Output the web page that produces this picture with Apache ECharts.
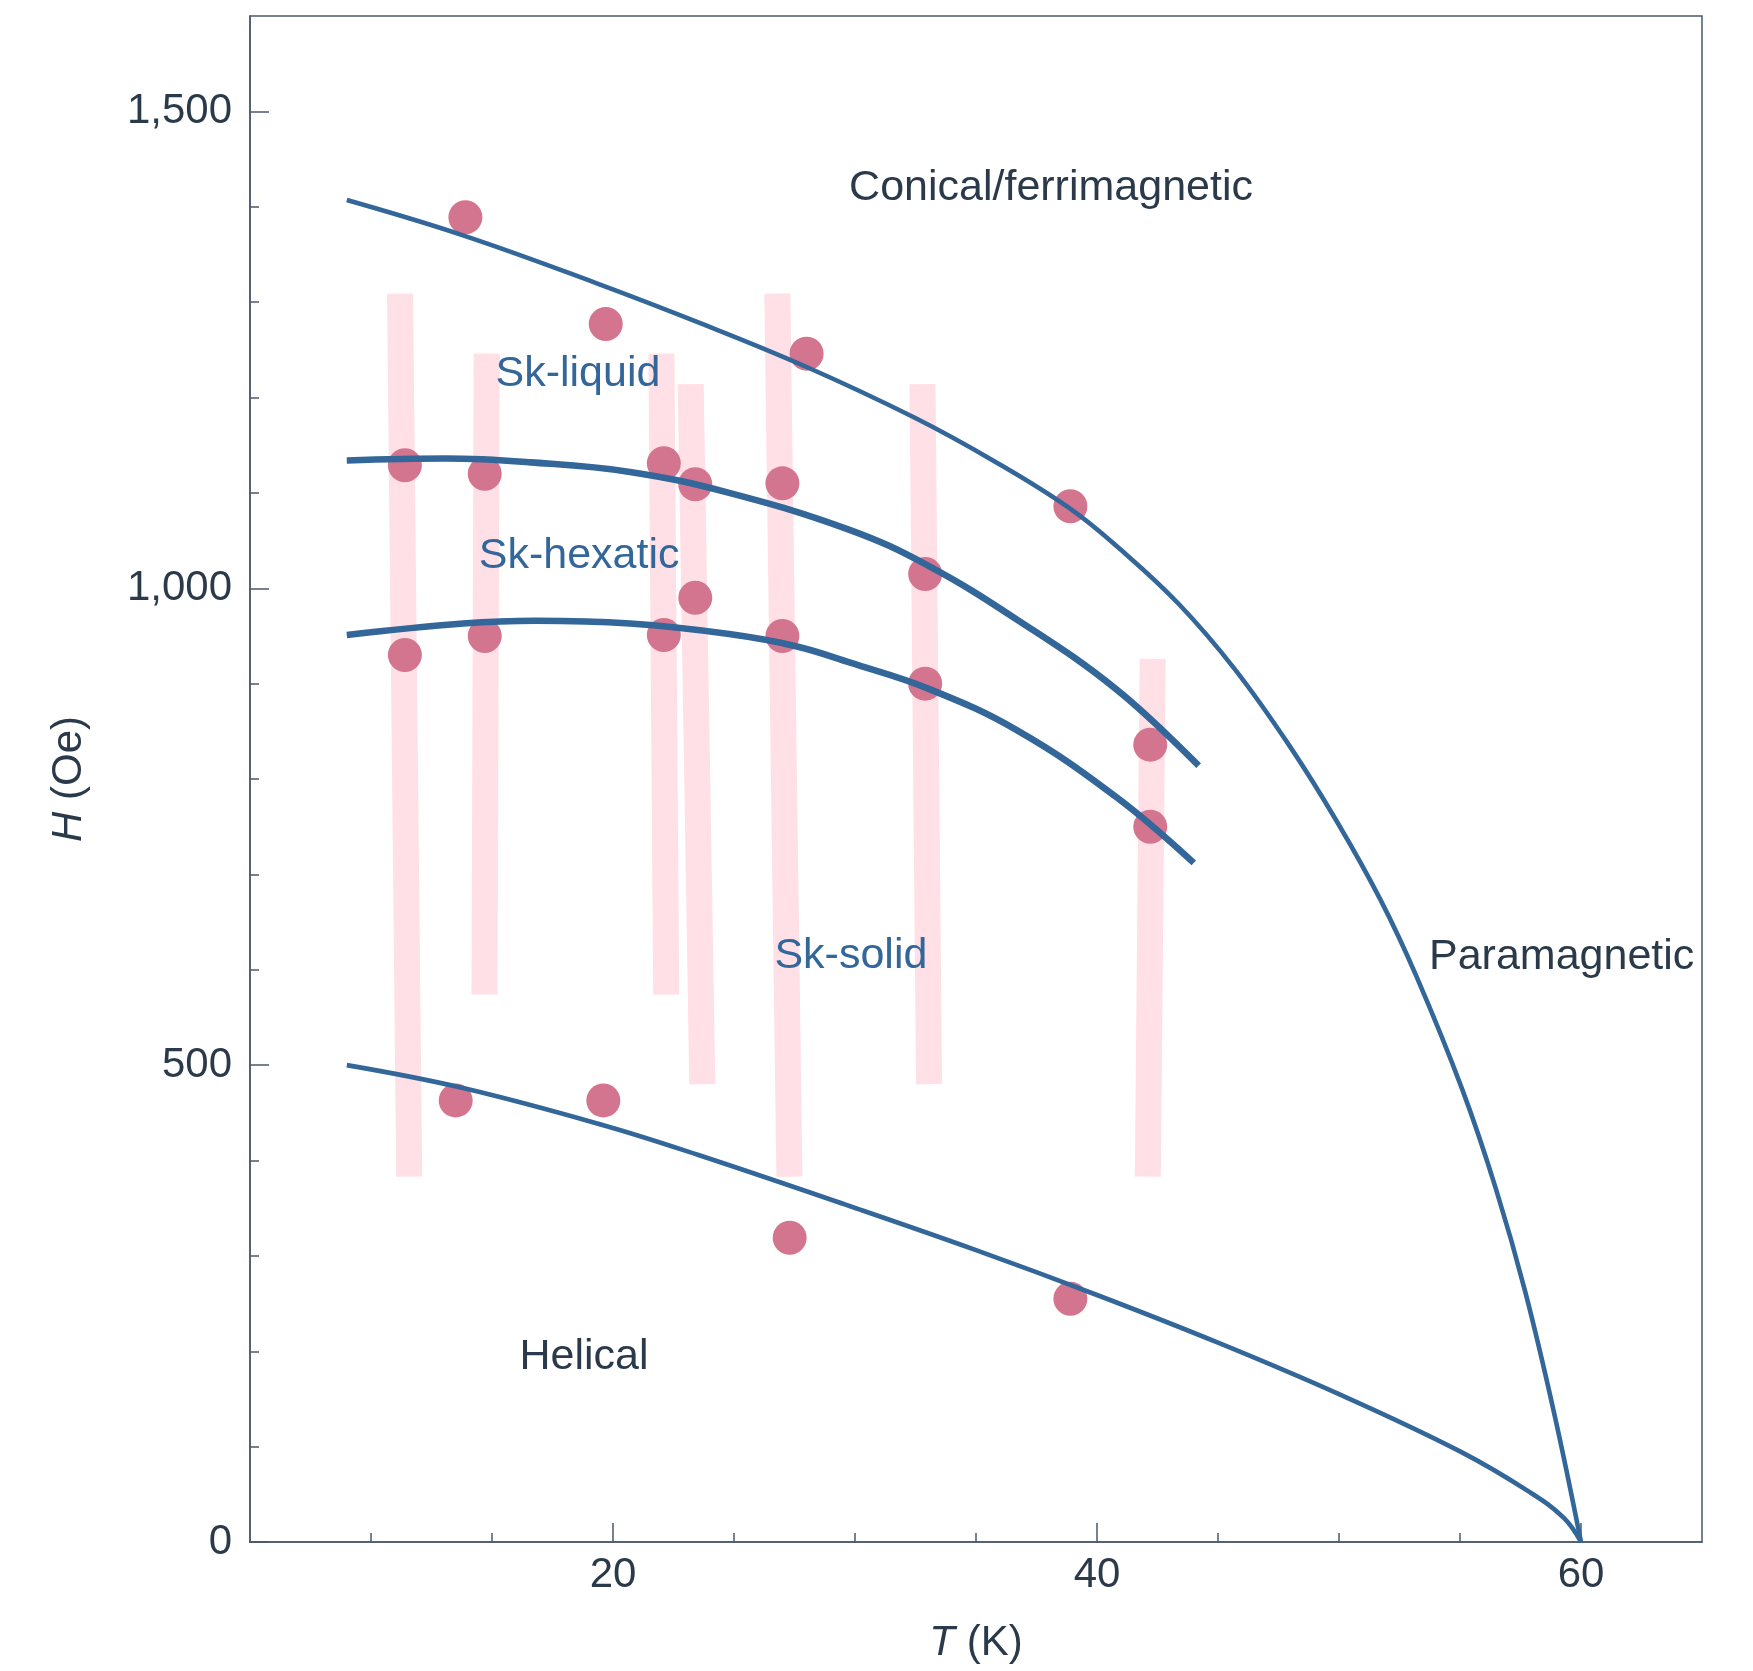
<!DOCTYPE html>
<html>
<head>
<meta charset="utf-8">
<script src="https://cdn.jsdelivr.net/npm/echarts@6/dist/echarts.min.js"></script>
<style>
html,body{margin:0;padding:0;background:#fff;}
#c{width:1753px;height:1671px;}
</style>
</head>
<body>
<div id="c"></div>
<script>
// ---- data (T in K, H in Oe) ----
const pointT = [13.9, 19.7, 28.0, 38.9, 11.4, 14.7, 22.1, 23.4, 27.0, 32.9, 23.4, 11.4, 14.7, 22.1, 27.0, 32.9, 42.2, 42.2, 13.5, 19.6, 27.3, 38.9];
const pointH = [1389, 1277, 1246, 1086, 1129, 1120, 1131, 1109, 1110, 1015, 990, 930, 950, 951, 950, 900, 836, 750, 463, 463, 319, 255];

const tcCurveT = [9.0, 13.8, 19.3, 23.5, 28.0, 32.45, 35.7, 38.86, 41.0, 43.36, 45.7, 47.95, 49.9, 51.7, 53.2, 55.1, 56.5, 57.7, 58.9, 60.0];
const tcCurveH = [1407, 1370, 1320, 1279, 1232, 1179, 1134, 1084, 1040, 984, 915, 835, 756, 674, 593, 474, 369, 262, 134, 0];

const hexUpperT = [9.0, 13.1, 16.6, 20.7, 24.8, 29.8, 33.0, 36.7, 40.8, 44.2];
const hexUpperH = [1134, 1136, 1132, 1122, 1100, 1061, 1024, 967, 894, 814];

const hexLowerT = [9.0, 13.8, 16.8, 20.7, 24.8, 27.6, 29.8, 33.0, 36.7, 40.8, 44.0];
const hexLowerH = [951, 963, 966, 963, 952, 939, 922, 895, 851, 781, 712];

const helicalT = [9.0, 13.8, 19.6, 23.5, 29.8, 35.0, 40.0, 45.0, 50.0, 55.0, 57.9, 59.3, 60.0];
const helicalH = [500, 476, 437, 406, 352, 306, 259, 209, 155, 95, 52, 25, 0];

const barTopT = [11.2, 14.78, 22.0, 23.21, 26.79, 32.79, 42.3];
const barTopH = [1309, 1246, 1246, 1214, 1309, 1214, 926];
const barBottomT = [11.58, 14.69, 22.2, 23.69, 27.29, 33.06, 42.1];
const barBottomH = [383, 574, 574, 480, 383, 480, 383];

const regionNames = ['Conical/ferrimagnetic', 'Sk-liquid', 'Sk-hexatic', 'Sk-solid', 'Helical', 'Paramagnetic'];
const regionT = [38.1, 18.55, 18.6, 29.83, 18.8, 59.2];
const regionH = [1419, 1224, 1034, 614, 194, 613];
const regionBlue = [false, true, true, true, false, false];

const xMajorTicks = [20, 40, 60];
const xMinorTicks = [10, 15, 25, 30, 35, 45, 50, 55];
const yMajorTicks = [0, 500, 1000, 1500];
const yMinorTicks = [100, 200, 300, 400, 600, 700, 800, 900, 1100, 1200, 1300, 1400];

// ---- styles ----
const FONT = '"Liberation Sans", Arial, Helvetica, sans-serif';
const AX = '#4a5a6b';
const TXT = '#2b3a4a';
const BLUE = '#336699';
const PINK = '#D4758F';
const BAR = '#FFE0E6';

const zip = (a, b) => a.map((v, i) => [v, b[i]]);

const series = [];
barTopT.forEach((t, i) => {
  series.push({
    type: 'line', silent: true, symbol: 'none', z: 1,
    data: [[t, barTopH[i]], [barBottomT[i], barBottomH[i]]],
    lineStyle: { color: BAR, width: 26, cap: 'butt' }
  });
});
series.push({
  type: 'scatter', z: 2, silent: true,
  data: zip(pointT, pointH),
  symbol: 'circle', symbolSize: 34,
  itemStyle: { color: PINK, opacity: 1 }
});
const curve = (t, h, w) => ({
  type: 'line', z: 3, silent: true, symbol: 'none',
  smooth: 0.4,
  data: zip(t, h),
  lineStyle: { color: BLUE, width: w, cap: 'butt' }
});
series.push(curve(tcCurveT, tcCurveH, 4.6));
series.push(curve(hexUpperT, hexUpperH, 6.6));
series.push(curve(hexLowerT, hexLowerH, 6.6));
series.push(curve(helicalT, helicalH, 4.6));
series.push({
  type: 'scatter', z: 4, silent: true,
  symbolSize: 0,
  itemStyle: { color: '#ffffff', opacity: 1 },
  data: regionNames.map((n, i) => ({
    name: n, value: [regionT[i], regionH[i]],
    label: { color: regionBlue[i] ? BLUE : TXT }
  })),
  label: {
    show: true, position: 'inside', formatter: '{b}', opacity: 1,
    fontSize: 43, fontFamily: FONT, align: 'center', verticalAlign: 'middle',
    textBorderWidth: 0
  }
});

const chart = echarts.init(document.getElementById('c'), null, { renderer: 'canvas' });
chart.setOption({
  animation: false,
  backgroundColor: '#fff',
  grid: { left: 250, right: 51, top: 16, bottom: 129, show: true, borderColor: AX, borderWidth: 1.5, backgroundColor: 'transparent' },
  xAxis: [{
    type: 'value', min: 5, max: 65, interval: 5, position: 'bottom',
    axisLine: { show: true, lineStyle: { color: AX, width: 1.5 } },
    axisTick: { show: true, inside: true, length: 19, customValues: xMajorTicks, lineStyle: { color: AX, width: 1.5 } },
    axisLabel: { show: true, customValues: xMajorTicks, fontSize: 42, color: TXT, fontFamily: FONT, margin: 12 },
    splitLine: { show: false },
    name: '{i|T} (K)', nameLocation: 'middle', nameGap: 80,
    nameTextStyle: { fontSize: 42, color: TXT, fontFamily: FONT, rich: { i: { fontSize: 42, color: TXT, fontFamily: FONT, fontStyle: 'italic' } } }
  }, {
    type: 'value', min: 5, max: 65, interval: 5, position: 'bottom', gridIndex: 0,
    axisLine: { show: false },
    axisTick: { show: true, inside: true, length: 9, customValues: xMinorTicks, lineStyle: { color: AX, width: 1.5 } },
    axisLabel: { show: false },
    splitLine: { show: false }
  }],
  yAxis: [{
    type: 'value', min: 0, max: 1600, interval: 100, position: 'left',
    axisLine: { show: true, lineStyle: { color: AX, width: 1.5 } },
    axisTick: { show: true, inside: true, length: 19, customValues: yMajorTicks, lineStyle: { color: AX, width: 1.5 } },
    axisLabel: { show: true, customValues: yMajorTicks, fontSize: 42, color: TXT, fontFamily: FONT, margin: 18,
      formatter: v => Number(v).toLocaleString('en-US') },
    splitLine: { show: false },
    name: '{i|H} (Oe)', nameLocation: 'middle', nameGap: 160, nameRotate: 90,
    nameTextStyle: { fontSize: 42, color: TXT, fontFamily: FONT, rich: { i: { fontSize: 42, color: TXT, fontFamily: FONT, fontStyle: 'italic' } } }
  }, {
    type: 'value', min: 0, max: 1600, interval: 100, position: 'left', gridIndex: 0,
    axisLine: { show: false },
    axisTick: { show: true, inside: true, length: 9, customValues: yMinorTicks, lineStyle: { color: AX, width: 1.5 } },
    axisLabel: { show: false },
    splitLine: { show: false }
  }],
  series: series
});
</script>
</body>
</html>
